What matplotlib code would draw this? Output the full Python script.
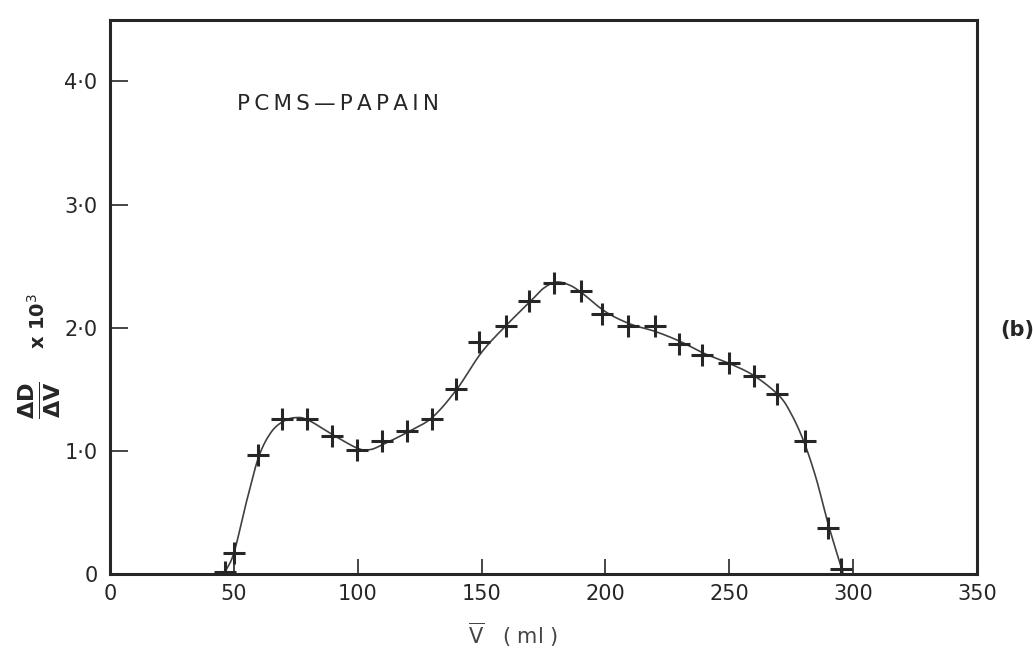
import numpy as np
import matplotlib
matplotlib.use("Agg")
import matplotlib.pyplot as plt

# measured points: elution volume (ml) and dD/dV x 10^3
vol = [46.5, 50, 59.7, 69.4, 79.4, 89.5, 99.6, 110, 119.8, 130, 139.5, 148.8,
       159.7, 169, 179.4, 190, 198.8, 209, 220, 229.8, 239, 250, 260, 269.4,
       280.6, 290, 295]
dddv = [0.02, 0.17, 0.97, 1.26, 1.26, 1.12, 1.01, 1.08, 1.16, 1.26, 1.50, 1.88,
        2.01, 2.22, 2.36, 2.30, 2.11, 2.01, 2.01, 1.87, 1.78, 1.71, 1.61, 1.46,
        1.08, 0.37, 0.04]

# hand-drawn guide curve through the points
curve_v = [46, 50, 55, 60, 65, 70, 75, 80, 90, 100, 105, 110, 120, 130, 140,
           150, 160, 170, 175, 180, 185, 190, 200, 210, 220, 230, 240, 250,
           260, 270, 275, 280, 285, 290, 296]
curve_y = [0.0, 0.17, 0.58, 0.95, 1.15, 1.24, 1.27, 1.25, 1.13, 1.02, 1.01,
           1.05, 1.15, 1.27, 1.50, 1.80, 2.02, 2.22, 2.32, 2.37, 2.35, 2.29,
           2.13, 2.03, 1.97, 1.89, 1.79, 1.71, 1.61, 1.45, 1.30, 1.08, 0.78,
           0.40, 0.0]

xticks = [0, 50, 100, 150, 200, 250, 300, 350]
yticks = [0, 1, 2, 3, 4]
ylabels = ["0", "1\u00b70", "2\u00b70", "3\u00b70", "4\u00b70"]

INK = "#262626"


def catmull_rom(xs, ys, n=24):
    # smooth path through the knots (uniform Catmull-Rom)
    p = np.column_stack([xs, ys]).astype(float)
    p = np.vstack([2 * p[0] - p[1], p, 2 * p[-1] - p[-2]])
    out = []
    t = np.linspace(0, 1, n, endpoint=False)[:, None]
    for i in range(1, len(p) - 2):
        p0, p1, p2, p3 = p[i - 1], p[i], p[i + 1], p[i + 2]
        seg = 0.5 * ((2 * p1) + (-p0 + p2) * t
                     + (2 * p0 - 5 * p1 + 4 * p2 - p3) * t ** 2
                     + (-p0 + 3 * p1 - 3 * p2 + p3) * t ** 3)
        out.append(seg)
    out.append(p[-2][None, :])
    out = np.vstack(out)
    return out[:, 0], out[:, 1]


plt.rcParams["font.family"] = ["DejaVu Sans"]
plt.rcParams["mathtext.fontset"] = "dejavusans"

fig = plt.figure(figsize=(10.33, 6.55), dpi=100)
ax = fig.add_axes([0.1065, 0.1237, 0.8393, 0.846])

cx, cy = catmull_rom(curve_v, curve_y)
ax.plot(cx, cy, color="#404040", lw=1.2, zorder=2)
ax.plot(vol, dddv, ls="none", marker="+", ms=16, mew=2.2, color=INK, zorder=3)

ax.set_xlim(0, 350)
ax.set_ylim(0, 4.5)

for side in ["left", "bottom", "top", "right"]:
    ax.spines[side].set_linewidth(2.2)
    ax.spines[side].set_color(INK)

ax.set_xticks(xticks)
ax.set_xticklabels([str(v) for v in xticks])
ax.set_yticks(yticks)
ax.set_yticklabels(ylabels)
ax.tick_params(axis="x", direction="in", length=11, width=1.2, color=INK,
               labelsize=15, labelcolor=INK, pad=7)
ax.tick_params(axis="y", direction="in", length=13, width=1.2, color=INK,
               labelsize=15, labelcolor=INK, pad=9)
# the end ticks sit on the frame
for t in ax.xaxis.get_major_ticks()[:1] + ax.xaxis.get_major_ticks()[-1:]:
    t.tick1line.set_visible(False)
ax.yaxis.get_major_ticks()[0].tick1line.set_visible(False)

title = "\u2009".join("PCMS") + "\u2009\u2014\u2009" + "\u2009".join("PAPAIN")
ax.text(0.147, 0.848, title, transform=ax.transAxes, fontsize=15.5,
        color=INK, va="center")

# y axis label: fraction and scale factor
fig.text(0.039, 0.39, r"$\mathbf{\frac{\Delta D}{\Delta V}}$", rotation=90,
         fontsize=23, color=INK, ha="center", va="center")
fig.text(0.037, 0.51, r"x 10$^{3}$", rotation=90, fontsize=14,
         color=INK, ha="center", va="center", fontweight="bold")

fig.text(0.497, 0.03, r"$\overline{\mathrm{V}}$   ( ml )", fontsize=15,
         color="#444444", ha="center", va="center")

fig.text(0.985, 0.496, "(b)", fontsize=15, color=INK, ha="center",
         va="center", fontweight="bold")

fig.savefig("out.png", dpi=100)
